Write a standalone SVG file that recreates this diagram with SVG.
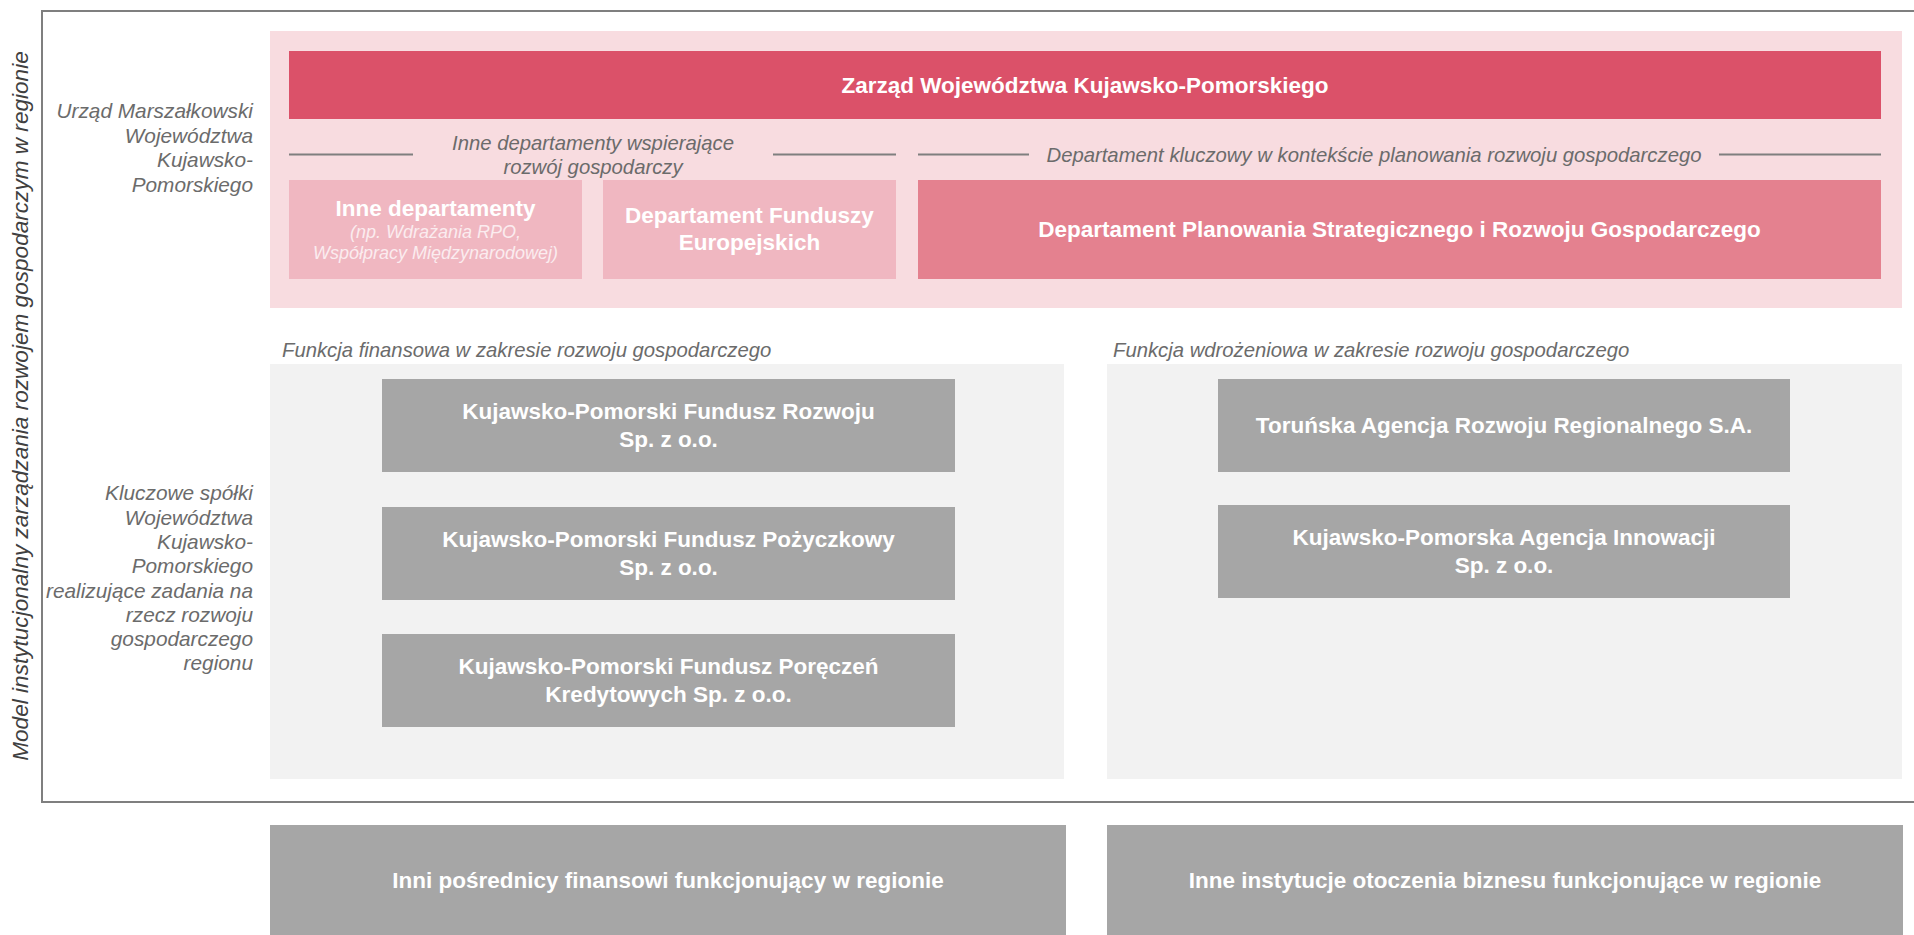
<svg xmlns="http://www.w3.org/2000/svg" width="1914" height="935" viewBox="0 0 1914 935">
<style>
.bold{font-family:"Liberation Sans",Arial,sans-serif;font-weight:bold;font-size:22.5px;fill:#ffffff;text-anchor:middle}
.ital{font-family:"Liberation Sans",Arial,sans-serif;font-style:italic;font-size:20.3px;fill:#6b6b6b}
.side{font-family:"Liberation Sans",Arial,sans-serif;font-style:italic;font-size:20.8px;fill:#6b6b6b;text-anchor:end}
.sub{font-family:"Liberation Sans",Arial,sans-serif;font-style:italic;font-size:18px;fill:#fbecef;text-anchor:middle}
.gbox{fill:#a6a6a6}
.panel{fill:#f2f2f2}
.sep{stroke:#7f7f7f;stroke-width:2;fill:none}
</style>
<rect width="1914" height="935" fill="#ffffff"/>
<g id="frame">
<rect x="42" y="11" width="1890" height="791" fill="none" stroke="#7f7f7f" stroke-width="2"/>
<text transform="translate(28,406) rotate(-90)" text-anchor="middle" font-family="Liberation Sans, Arial, sans-serif" font-style="italic" font-size="22.6" fill="#404040">Model instytucjonalny zarządzania rozwojem gospodarczym w regionie</text>
</g>
<g id="side-labels">
<text class="side" x="253" y="118">Urząd Marszałkowski</text>
<text class="side" x="253" y="142.5">Województwa</text>
<text class="side" x="253" y="167">Kujawsko-</text>
<text class="side" x="253" y="191.5">Pomorskiego</text>
<text class="side" x="253" y="500">Kluczowe spółki</text>
<text class="side" x="253" y="524.5">Województwa</text>
<text class="side" x="253" y="549">Kujawsko-</text>
<text class="side" x="253" y="573">Pomorskiego</text>
<text class="side" x="253" y="597.5">realizujące zadania na</text>
<text class="side" x="253" y="621.5">rzecz rozwoju</text>
<text class="side" x="253" y="646">gospodarczego</text>
<text class="side" x="253" y="670">regionu</text>
</g>
<g id="urzad-panel">
<rect x="270" y="31" width="1632" height="277" fill="#f8dce0"/>
</g>
<g id="zarzad">
<rect x="289" y="51" width="1592" height="68" fill="#db5169"/>
<text class="bold" x="1085" y="93">Zarząd Województwa Kujawsko-Pomorskiego</text>
</g>
<g id="connectors">
<line class="sep" x1="289" y1="154.5" x2="413" y2="154.5"/>
<line class="sep" x1="773" y1="154.5" x2="896" y2="154.5"/>
<line class="sep" x1="918" y1="154.5" x2="1029" y2="154.5"/>
<line class="sep" x1="1719" y1="154.5" x2="1881" y2="154.5"/>
</g>
<g id="group-labels">
<text class="ital" x="593" y="149.5" text-anchor="middle">Inne departamenty wspierające</text>
<text class="ital" x="593" y="174" text-anchor="middle">rozwój gospodarczy</text>
<text class="ital" x="1374" y="161.5" text-anchor="middle">Departament kluczowy w kontekście planowania rozwoju gospodarczego</text>
</g>
<g id="inne-departamenty">
<rect x="289" y="180" width="293" height="99" fill="#f0b7c1"/>
<text class="bold" x="435.5" y="215.5">Inne departamenty</text>
<text class="sub" x="435.5" y="237.5">(np. Wdrażania RPO,</text>
<text class="sub" x="435.5" y="258.5">Współpracy Międzynarodowej)</text>
</g>
<g id="dep-fundusze">
<rect x="603" y="180" width="293" height="99" fill="#f0b7c1"/>
<text class="bold" x="749.5" y="223">Departament Funduszy</text>
<text class="bold" x="749.5" y="250">Europejskich</text>
</g>
<g id="dep-planowania">
<rect x="918" y="180" width="963" height="99" fill="#e4818f"/>
<text class="bold" x="1399.5" y="237">Departament Planowania Strategicznego i Rozwoju Gospodarczego</text>
</g>
<g id="panel-finansowa">
<text class="ital" x="282" y="356.5">Funkcja finansowa w zakresie rozwoju gospodarczego</text>
<rect class="panel" x="270" y="364" width="794" height="415"/>
</g>
<g id="panel-wdrozeniowa">
<text class="ital" x="1113" y="356.5">Funkcja wdrożeniowa w zakresie rozwoju gospodarczego</text>
<rect class="panel" x="1107" y="364" width="795" height="415"/>
</g>
<g id="kpfr">
<rect class="gbox" x="382" y="379" width="573" height="93"/>
<text class="bold" x="668.5" y="419">Kujawsko-Pomorski Fundusz Rozwoju</text>
<text class="bold" x="668.5" y="447">Sp. z o.o.</text>
</g>
<g id="kpfp">
<rect class="gbox" x="382" y="507" width="573" height="93"/>
<text class="bold" x="668.5" y="547">Kujawsko-Pomorski Fundusz Pożyczkowy</text>
<text class="bold" x="668.5" y="575">Sp. z o.o.</text>
</g>
<g id="kpfpk">
<rect class="gbox" x="382" y="634" width="573" height="93"/>
<text class="bold" x="668.5" y="674">Kujawsko-Pomorski Fundusz Poręczeń</text>
<text class="bold" x="668.5" y="702">Kredytowych Sp. z o.o.</text>
</g>
<g id="tarr">
<rect class="gbox" x="1218" y="379" width="572" height="93"/>
<text class="bold" x="1504" y="433">Toruńska Agencja Rozwoju Regionalnego S.A.</text>
</g>
<g id="kpai">
<rect class="gbox" x="1218" y="505" width="572" height="93"/>
<text class="bold" x="1504" y="545">Kujawsko-Pomorska Agencja Innowacji</text>
<text class="bold" x="1504" y="573">Sp. z o.o.</text>
</g>
<g id="inni-posrednicy">
<rect class="gbox" x="270" y="825" width="796" height="115"/>
<text class="bold" x="668" y="888">Inni pośrednicy finansowi funkcjonujący w regionie</text>
</g>
<g id="inne-instytucje">
<rect class="gbox" x="1107" y="825" width="796" height="115"/>
<text class="bold" x="1505" y="888">Inne instytucje otoczenia biznesu funkcjonujące w regionie</text>
</g>
</svg>
